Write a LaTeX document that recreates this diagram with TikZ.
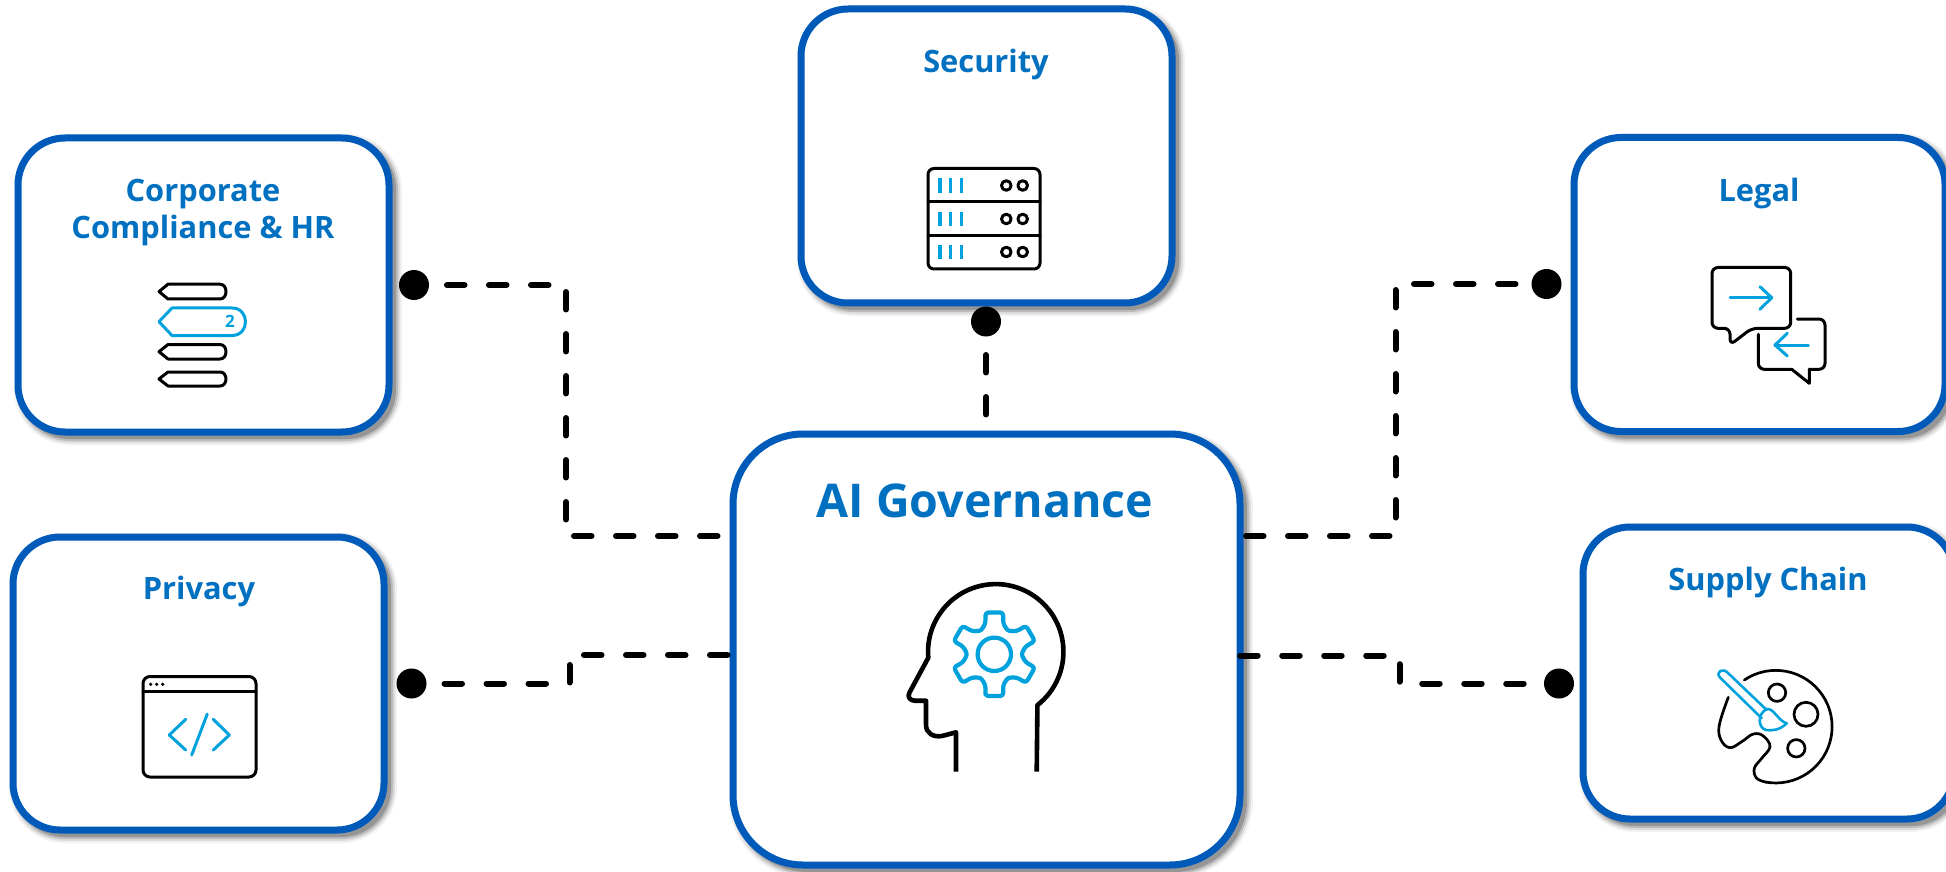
\documentclass[tikz,border=0pt]{standalone}
\usepackage{fontspec}
\setmainfont{Open Sans}
\usetikzlibrary{shadows}
\definecolor{frameblue}{HTML}{005ABA}
\definecolor{titleblue}{HTML}{0070C0}
\definecolor{iconcyan}{HTML}{00A2DE}
\tikzset{
  softshadow/.style={
    general shadow={draw=black,fill=none,line width=17pt,opacity=.05,shadow xshift=4.5pt,shadow yshift=-4.5pt},
    general shadow={draw=black,fill=none,line width=13pt,opacity=.09,shadow xshift=4.5pt,shadow yshift=-4.5pt},
    general shadow={draw=black,fill=none,line width=9pt,opacity=.14,shadow xshift=4.5pt,shadow yshift=-4.5pt},
    general shadow={draw=black,fill=none,line width=5pt,opacity=.2,shadow xshift=4.5pt,shadow yshift=-4.5pt}},
  govbox/.style={softshadow,draw=frameblue,fill=white,line width=7pt,rounded corners=47pt,
    minimum width=371pt,minimum height=294pt,inner sep=0pt,outer sep=0pt},
  title/.style={font=\bfseries\fontsize{30.8}{37}\selectfont,text=titleblue,anchor=base,inner sep=0pt,align=center},
  bigtitle/.style={font=\bfseries\fontsize{46.5}{50}\selectfont,text=titleblue,anchor=base,inner sep=0pt},
  conn/.style={draw=black,line width=6pt,line cap=round,dash pattern=on 17.5pt off 24.5pt},
  pin/.style={circle,fill=black,minimum size=30pt,inner sep=0pt,outer sep=0pt},
  ink/.style={draw=black,line width=3pt,line join=round,line cap=round},
  inkc/.style={draw=iconcyan,line width=3pt,line join=round,line cap=round},
}
\begin{document}
\begin{tikzpicture}[x=1pt,y=-1pt]
\useasboundingbox (0,0) rectangle (1946,871.5);
\fill[white] (0,0) rectangle (1946,871.5);
% boxes
\node[govbox] (corp) at (203.5,285) {};
\node[govbox] (sec) at (986.5,156) {};
\node[govbox] (legal) at (1759.5,284.5) {};
\node[govbox,minimum height=292pt] (supply) at (1768.5,673) {};
\node[govbox,minimum height=293pt] (priv) at (198.5,683.5) {};
\node[govbox,minimum width=507pt,minimum height=431pt,rounded corners=70pt] (main) at (986.5,649.5) {};
% titles
\node[title] (tCorp) at (203,201.5) {Corporate};
\node[title] (tComp) at (203,238.5) {Compliance \& HR};
\node[title] (tSec) at (986,73) {Security};
\node[title] (tLegal) at (1759,202) {Legal};
\node[title] (tSupply) at (1768,590) {Supply Chain};
\node[title] (tPriv) at (199,599.5) {Privacy};
\node[bigtitle] (tMain) at (985,517) {AI Governance};
% pins
\node[pin] (dCorp) at (414,285) {};
\node[pin] (dPriv) at (411.5,683.5) {};
\node[pin] (dSec) at (986,321.5) {};
\node[pin] (dLegal) at (1546.5,284) {};
\node[pin] (dSupply) at (1559,683.5) {};
% connectors
\coordinate (pCorp) at (566,536);
\coordinate (pPriv) at (569.5,655);
\coordinate (pLegal) at (1395.5,536);
\coordinate (pSupply) at (1399.5,655.5);
\draw[conn,dash phase=9pt] (dCorp.center) -| (pCorp) -- (pCorp -| main.west);
\draw[conn,dash phase=9pt] (dPriv.center) -| (pPriv) -- (pPriv -| main.west);
\draw[conn,dash phase=8.5pt] (dSec.center) -- (main.north -| dSec.center);
\draw[conn,dash phase=11pt] (dLegal.center) -| (pLegal) -- (pLegal -| main.east);
\draw[conn,dash phase=6.7pt] (dSupply.center) -| (pSupply) -- (pSupply -| main.east);
% --- Corporate icon
\foreach \yt/\yb in {284.2/299, 344.5/359, 372/386}{
  \draw[ink] (159,{(\yt+\yb)/2}) -- (168,\yt) -- (220,\yt)
     .. controls (228,\yt) and (228,\yb) .. (220,\yb) -- (168,\yb) -- cycle;
}
\draw[inkc] (159,321.7) -- (172,308) -- (232,308)
   .. controls (250,308) and (250,335.5) .. (232,335.5) -- (172,335.5) -- cycle;
\node[font=\bfseries\fontsize{17}{17}\selectfont,text=iconcyan,anchor=base,inner sep=0pt] (tTwo) at (230,327) {2};
% --- Security icon
\draw[ink,rounded corners=6pt] (928,168.5) rectangle (1040,269);
\draw[ink] (928,202) -- (1040,202);
\draw[ink] (928,235.5) -- (1040,235.5);
\foreach \yy in {178.5,212,245}{
  \foreach \xx in {940,950.7,961.3}{
    \draw[draw=iconcyan,line width=3.4pt] (\xx,\yy) -- (\xx,\yy+14.5);
  }
  \draw[ink] (1006.3,\yy+7) circle[radius=4.8];
  \draw[ink] (1022.7,\yy+7) circle[radius=4.8];
}
% --- Legal icon
\draw[ink,rounded corners=6pt] (1751.7,328.3) -- (1730,345) -- (1730,328.3) -- (1712,328.3) -- (1712,267.5) -- (1790.7,267.5) -- (1790.7,328.3) -- cycle;
\draw[inkc] (1730,297.7) -- (1771.7,297.7);
\draw[inkc] (1760,286.7) -- (1771.7,297.7) -- (1760,309.3);
\draw[ink,rounded corners=6pt] (1797.3,319) -- (1825,319) -- (1825,369.3) -- (1809.3,369.3);
\draw[ink] (1809.3,369.3) -- (1809.3,383.3) -- (1791.7,369.3);
\draw[ink,rounded corners=6pt] (1791.7,369.3) -- (1758.3,369.3) -- (1758.3,334.3);
\draw[inkc] (1808.3,345) -- (1775,345);
\draw[inkc] (1787.3,333.3) -- (1775,345) -- (1787.3,356);
% --- Supply icon
\draw[ink,line width=2.7pt] (1744.3,680) arc[start angle=-124,end angle=100,radius=56.3];
\draw[ink,line width=2.7pt] plot[smooth,tension=.65] coordinates {(1766.7,782.3) (1756.7,778.3) (1754.3,768.3) (1761.7,758.3) (1770,746.7) (1763.3,736) (1753.3,734) (1741.7,741.7) (1730,747.7) (1721,740) (1719.3,725) (1728.3,697.3)};
\draw[ink,line width=2.7pt] (1777,692.7) circle[radius=8.7];
\draw[ink,line width=2.7pt] (1806,714.3) circle[radius=12];
\draw[ink,line width=2.7pt] (1796.3,748.3) circle[radius=8.7];
\draw[inkc,line width=2.6pt] (1761.7,718.3) -- (1720,677.5) .. controls (1715,672) and (1723,667) .. (1728.3,673.3) -- (1766.7,710);
\draw[inkc,line width=2.6pt] (1766.7,709) .. controls (1774,708) and (1778,721) .. (1786.7,723.3)
   .. controls (1780,730) and (1772,731) .. (1766,730)
   .. controls (1758,728) and (1757,714) .. (1766.7,709) -- cycle;
% --- Privacy icon
\draw[ink,rounded corners=7pt] (143,676.5) rectangle (256,777);
\draw[ink] (143,691.7) -- (256,691.7);
\foreach \xx in {150.7,156.7,162.7}{ \fill (\xx,684.3) circle[radius=1.8]; }
\draw[inkc] (185.7,719.3) -- (169.3,735) -- (185.7,750);
\draw[inkc] (213.3,719.3) -- (229.3,735) -- (213.3,750);
\draw[inkc] (207.3,714) -- (191.7,755);
% --- Head icon
\draw[draw=black,line width=4.6pt,line join=round]
  (956,771.7) -- (956,732.3) -- (942,736) .. controls (933,737.5) and (926,733) .. (926,725)
  -- (926,700.7) -- (915,700.7) .. controls (910,700.7) and (907,697) .. (909.5,692.5)
  -- (928.3,657.7) arc[start angle=175,end angle=412,radius=67.7] -- (1036.7,771.7);
\begin{scope}[shift={(994.3,654.3)}]
\draw[draw=iconcyan,line width=4.2pt,line join=round] (0,0) circle[radius=16.7];
\draw[draw=iconcyan,line width=4.2pt,line join=round,rounded corners=3pt] (102:42.7)
  \foreach \a in {90,30,-30,-90,-150,-210}{
    -- (\a+12:42.7) -- (\a-12:42.7) -- (\a-16:32) .. controls (\a-30:27) .. (\a-44:32)
  } -- cycle;
\end{scope}
\end{tikzpicture}
\end{document}
